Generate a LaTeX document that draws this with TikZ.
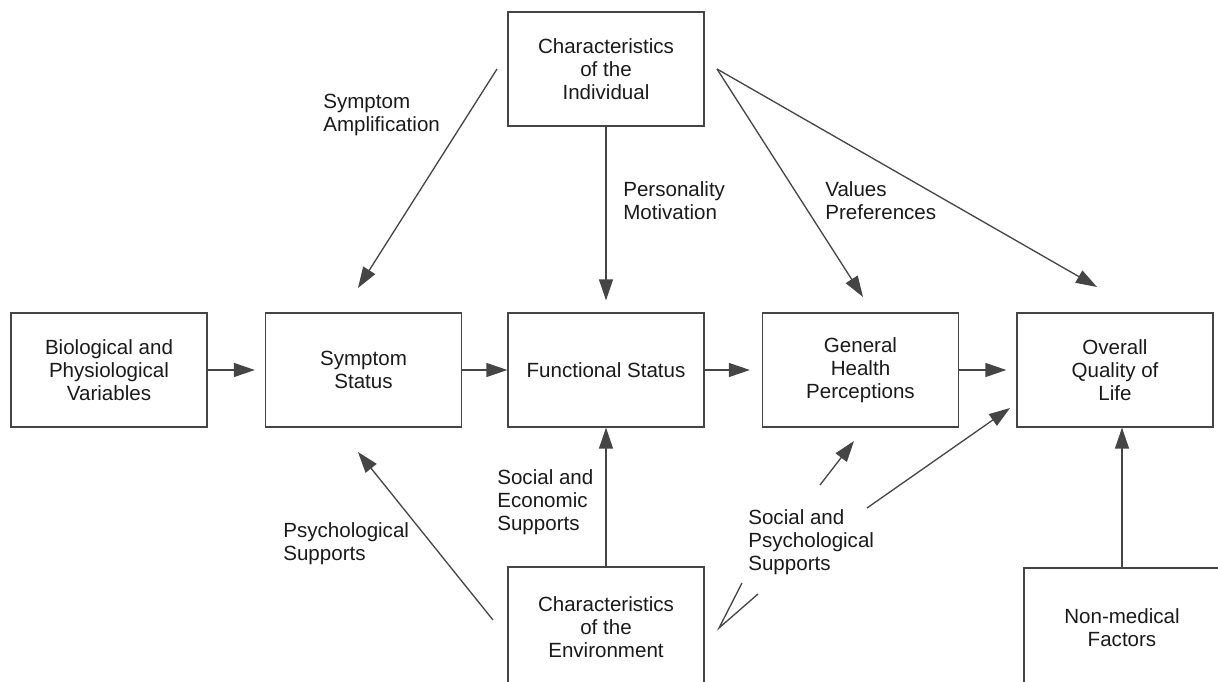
\documentclass[tikz,border=0pt]{standalone}
\usepackage{fontspec}
\setmainfont{Liberation Sans}
\usepackage{tikz}
\usetikzlibrary{positioning, arrows.meta, calc}
\usepackage{xcolor}
\definecolor{modLinea}{HTML}{454545}
\definecolor{modTexto}{HTML}{1A1A1A}

\begin{document}
\begin{tikzpicture}[x=0.02cm, y=-0.02cm,
    font=\fontsize{11.7}{13.1}\selectfont,
    caja/.style={draw=modLinea, line width=0.75pt, text=modTexto, align=center,
      minimum width=3.92cm, minimum height=2.28cm, inner sep=2pt},
    cajacorte/.style={caja, minimum height=2.4cm},
    etiqueta/.style={anchor=west, align=left, text=modTexto, inner sep=0pt},
    flecha/.style={draw=modLinea, line width=0.75pt,
      -{Triangle[length=0.42cm, width=0.28cm]}},
    linea/.style={draw=modLinea, line width=0.75pt}]
        \useasboundingbox (0,0) rectangle (1218,682);
        \clip (0,0) rectangle (1218,682);
        % Fila central de cajas
        \foreach \nombre/\x/\texto in {%
          bio/109/{Biological and\\Physiological\\Variables},
          symp/363.5/{Symptom\\Status},
          func/606/{Functional Status},
          gen/860.5/{General\\Health\\Perceptions},
          qol/1115/{Overall\\Quality of\\Life}%
        } {
          \node[caja] (\nombre) at (\x,370) {\texto};
        }
        \node[caja] (indiv) at (606,69) {Characteristics\\of the\\Individual};
        \node[cajacorte] (envir) at (606,627) {Characteristics\\of the\\Environment};
        \node[cajacorte] (nonmed) at (1122,628) {Non-medical\\Factors};
        % Flechas horizontales
        \foreach \a/\b/\s in {bio/symp/0.2, symp/func/0, func/gen/0.24, gen/qol/0.2} {
          \draw[flecha, shorten >=\s cm] (\a) -- (\b);
        }
        % Extremos libres
        \coordinate (indivL) at (497,69);
        \coordinate (indivR) at (717,69);
        \coordinate (ampPunta) at (358,288);
        \coordinate (valPunta) at (863,297);
        \coordinate (qolPunta) at (1097,287);
        \coordinate (psyIni) at (493,620);
        \coordinate (psyPunta) at (358,452);
        \coordinate (vPunta) at (719,628);
        \coordinate (vIzq) at (742,583);
        \coordinate (vDer) at (758,594);
        \coordinate (genIni) at (820,485);
        \coordinate (genPunta) at (854,441);
        \coordinate (qolIni) at (867,508);
        \coordinate (qolPunta2) at (1010,408);
        % Desde el individuo
        \draw[flecha] (indivL) -- (ampPunta);
        \draw[flecha, shorten >=0.24cm] (indiv) -- (func);
        \draw[flecha] (indivR) -- (valPunta);
        \draw[flecha] (indivR) -- (qolPunta);
        % Desde el entorno
        \draw[flecha] (psyIni) -- (psyPunta);
        \draw[flecha] (envir) -- (func);
        \draw[linea] (vIzq) -- (vPunta) -- (vDer);
        \draw[flecha] (genIni) -- (genPunta);
        \draw[flecha] (qolIni) -- (qolPunta2);
        \draw[flecha] (nonmed.north) -- (nonmed.north |- qol.south);
        % Etiquetas
        \node[etiqueta] (amp) at (323,115) {Symptom\\Amplification};
        \node[etiqueta] (pers) at (623,201) {Personality\\Motivation};
        \node[etiqueta] (vals) at (825,201) {Values\\Preferences};
        \node[etiqueta] (psy) at (283,544) {Psychological\\Supports};
        \node[etiqueta] (soceco) at (497,502) {Social and\\Economic\\Supports};
        \node[etiqueta] (socpsy) at (748,542) {Social and\\Psychological\\Supports};
      \end{tikzpicture}
\end{document}
